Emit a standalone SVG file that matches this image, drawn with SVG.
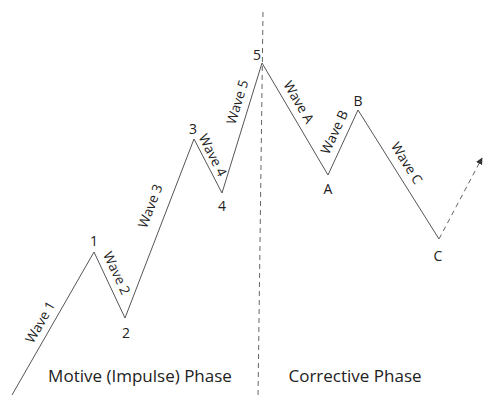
<svg xmlns="http://www.w3.org/2000/svg" width="484" height="398" viewBox="0 0 484 398">
<style>
.ln{fill:none;stroke:#555;stroke-width:1}
.dash{fill:none;stroke:#666;stroke-width:1;stroke-dasharray:5,4}
text{font-family:"Open Sans","Noto Sans",sans-serif;fill:#222}
.w{font-size:13.5px;text-anchor:middle;dominant-baseline:central}
.p{font-size:14px;text-anchor:middle}
.ph{font-size:17px;text-anchor:middle}
</style>
<defs>
<marker id="ah" viewBox="0 0 10 10" refX="9" refY="5" markerWidth="7" markerHeight="7" orient="auto" markerUnits="userSpaceOnUse">
<path d="M0,0 L10,5 L0,10 z" fill="#333"/>
</marker>
</defs>
<rect width="484" height="398" fill="#fff"/>
<g id="connectors">
<line class="dash" x1="263" y1="12" x2="258" y2="398"/>
<polyline class="ln" points="12,395 94,252 125,318 194,139 222,193 262,63 328,175 358,110 439,239"/>
<line class="dash" x1="439" y1="239" x2="482" y2="158" marker-end="url(#ah)"/>
</g>
<g id="p1"><text class="p" x="94" y="246">1</text></g>
<g id="p2"><text class="p" x="126" y="338">2</text></g>
<g id="p3"><text class="p" x="193" y="134">3</text></g>
<g id="p4"><text class="p" x="222" y="211">4</text></g>
<g id="p5"><text class="p" x="257" y="60">5</text></g>
<g id="pA"><text class="p" x="328" y="194">A</text></g>
<g id="pB"><text class="p" x="358" y="106">B</text></g>
<g id="pC"><text class="p" x="438" y="261">C</text></g>
<g id="w1"><text class="w" transform="translate(40,322) rotate(-60)">Wave 1</text></g>
<g id="w2"><text class="w" transform="translate(117,273) rotate(65)">Wave 2</text></g>
<g id="w3"><text class="w" transform="translate(150,206) rotate(-69)">Wave 3</text></g>
<g id="w4"><text class="w" transform="translate(213,155) rotate(63)">Wave 4</text></g>
<g id="w5"><text class="w" transform="translate(237,102) rotate(-73)">Wave 5</text></g>
<g id="wA"><text class="w" transform="translate(299,102) rotate(59.5)">Wave A</text></g>
<g id="wB"><text class="w" transform="translate(334,132) rotate(-65)">Wave B</text></g>
<g id="wC"><text class="w" transform="translate(407,163) rotate(58)">Wave C</text></g>
<g id="phase1"><text class="ph" x="140" y="382">Motive (Impulse) Phase</text></g>
<g id="phase2"><text class="ph" x="355" y="382">Corrective Phase</text></g>
</svg>
